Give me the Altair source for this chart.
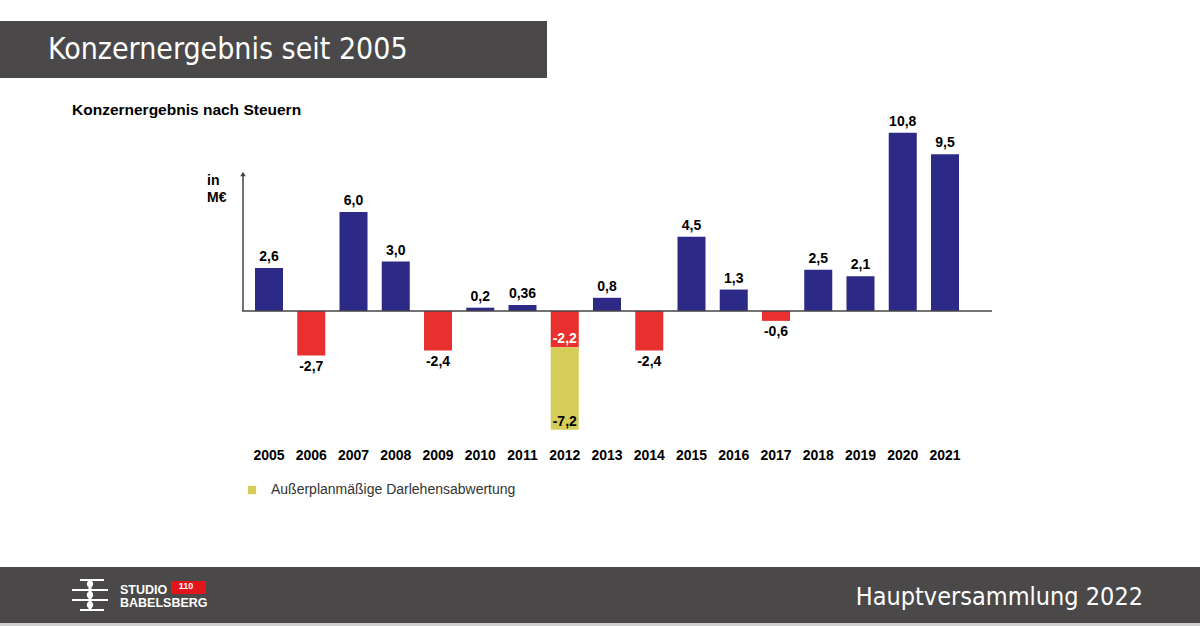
import altair as alt
import pandas as pd

# Group result after tax, in million euro
years = [str(y) for y in range(2005, 2022)]
results = [2.6, -2.7, 6.0, 3.0, -2.4, 0.2, 0.36, -2.2, 0.8, -2.4, 4.5, 1.3, -0.6, 2.5, 2.1, 10.8, 9.5]

# Extraordinary loan write-down on top of the 2012 operating loss
writedown_year = "2012"
writedown = -5.0

kind_pos = "Gewinn"
kind_neg = "Verlust"
kind_wd = "Außerplanmäßige Darlehensabwertung"

BLUE = "#2c2a86"
RED = "#e8312f"
YELLOW = "#d5cd58"
DARK = "#4a4848"
FONT = "Liberation Sans"
NARROW = "Liberation Sans Narrow, DejaVu Sans Condensed, Liberation Sans"
LBL = 14


def de(v):
    s = f"{v:.2f}" if round(v, 1) != v else f"{v:.1f}"
    return s.replace(".", ",")


rows = []
for y, v in zip(years, results):
    rows.append({"year": y, "start": 0.0, "end": v,
                 "kind": kind_pos if v >= 0 else kind_neg})
    if y == writedown_year:
        rows.append({"year": y, "start": v, "end": v + writedown, "kind": kind_wd})
bars_df = pd.DataFrame(rows)

labels = []
for y, v in zip(years, results):
    if y == writedown_year:
        labels.append({"year": y, "val": v, "txt": de(v), "pos": "in_neg", "col": "white"})
        total = round(v + writedown, 2)
        labels.append({"year": y, "val": total, "txt": de(total), "pos": "in_neg", "col": "black"})
    elif v >= 0:
        labels.append({"year": y, "val": v, "txt": de(v), "pos": "above", "col": "black"})
    else:
        labels.append({"year": y, "val": v, "txt": de(v), "pos": "below", "col": "black"})
labels_df = pd.DataFrame(labels)

xs = alt.Scale(domain=years, range=[255, 959], paddingInner=0.337, paddingOuter=0)
ys = alt.Scale(domain=[-8, 12], range=[443, 113], nice=False, zero=False)
X = alt.X("year:N", scale=xs, axis=None)

bars = alt.Chart(bars_df).mark_bar().encode(
    x=X,
    y=alt.Y("start:Q", scale=ys, axis=None),
    y2="end:Q",
    color=alt.Color(
        "kind:N",
        scale=alt.Scale(domain=[kind_pos, kind_neg, kind_wd], range=[BLUE, RED, YELLOW]),
        legend=alt.Legend(
            values=[kind_wd], orient="none", legendX=245, legendY=483, title=None,
            symbolType="square", symbolSize=70, symbolStrokeWidth=0, labelLimit=0,
            labelFont=FONT, labelFontSize=14, labelColor="#333333", labelOffset=12,
        ),
    ),
)

above = alt.Chart(labels_df).transform_filter("datum.pos == 'above'").mark_text(
    font=FONT, fontWeight="bold", fontSize=LBL, baseline="bottom", dy=-4, color="black"
).encode(x=X, y=alt.Y("val:Q", scale=ys, axis=None), text="txt:N")

below = alt.Chart(labels_df).transform_filter("datum.pos == 'below'").mark_text(
    font=FONT, fontWeight="bold", fontSize=LBL, baseline="top", dy=4, color="black"
).encode(x=X, y=alt.Y("val:Q", scale=ys, axis=None), text="txt:N")

inside = alt.Chart(labels_df).transform_filter("datum.pos == 'in_neg'").mark_text(
    font=FONT, fontWeight="bold", fontSize=LBL, baseline="bottom", dy=-1
).encode(
    x=X, y=alt.Y("val:Q", scale=ys, axis=None), text="txt:N",
    color=alt.Color("col:N", scale=None),
)

year_labels = alt.Chart(pd.DataFrame({"year": years})).mark_text(
    font=FONT, fontWeight="bold", fontSize=LBL, color="black", baseline="middle"
).encode(x=X, y=alt.value(456), text="year:N")

zero_line = alt.Chart(pd.DataFrame({"v": [0]})).mark_rule(color="#444444", strokeWidth=1.5).encode(
    y=alt.Y("v:Q", scale=ys, axis=None), x=alt.value(242), x2=alt.value(992)
)

y_axis = alt.Chart(pd.DataFrame({"v": [0]})).mark_rule(color="#444444", strokeWidth=1.5).encode(
    x=alt.value(243), y=alt.Y("v:Q", scale=ys, axis=None), y2=alt.value(174)
)
arrow = alt.Chart(pd.DataFrame({"v": [0]})).mark_point(
    shape="triangle-up", filled=True, color="#444444", size=30, opacity=1
).encode(x=alt.value(243), y=alt.value(174))

unit = alt.Chart(pd.DataFrame({"t": ["in", "M€"], "yy": [181, 198]})).mark_text(
    font=FONT, fontWeight="bold", fontSize=LBL, align="left", baseline="middle", color="black"
).encode(x=alt.value(207), y=alt.Y("yy:Q", scale=None), text="t:N")

subtitle = alt.Chart(pd.DataFrame({"t": ["Konzernergebnis nach Steuern"]})).mark_text(
    font=FONT, fontWeight="bold", fontSize=15.5, align="left", baseline="middle", color="black"
).encode(x=alt.value(72), y=alt.value(110), text="t:N")

# header and footer bands
header = alt.Chart(pd.DataFrame({"v": [0]})).mark_rect(color=DARK).encode(
    x=alt.value(0), x2=alt.value(547), y=alt.value(21), y2=alt.value(78)
)
header_text = alt.Chart(pd.DataFrame({"t": ["Konzernergebnis seit 2005"]})).mark_text(
    font=NARROW, fontSize=30, align="left", baseline="middle", color="white"
).encode(x=alt.value(48), y=alt.value(50), text="t:N")

footer = alt.Chart(pd.DataFrame({"v": [0]})).mark_rect(color=DARK).encode(
    x=alt.value(0), x2=alt.value(1200), y=alt.value(567), y2=alt.value(623)
)
footer_edge = alt.Chart(pd.DataFrame({"v": [0]})).mark_rect(color="#cfcfcf").encode(
    x=alt.value(0), x2=alt.value(1200), y=alt.value(623), y2=alt.value(626)
)
footer_text = alt.Chart(pd.DataFrame({"t": ["Hauptversammlung 2022"]})).mark_text(
    font=NARROW, fontSize=25, align="right", baseline="middle", color="white"
).encode(x=alt.value(1143), y=alt.value(597), text="t:N")

# studio logo: stylised figure, wordmark and anniversary badge
logo_lines = alt.Chart(pd.DataFrame({
    "x1": [80, 72, 72, 80], "x2": [104, 108, 108, 104], "yy": [580, 590, 600, 610]
})).mark_rule(color="white", strokeWidth=2).encode(
    x=alt.X("x1:Q", scale=None), x2="x2:Q", y=alt.Y("yy:Q", scale=None)
)
logo_body = alt.Chart(pd.DataFrame({"yy": [584, 595, 605]})).mark_point(
    shape="circle", filled=True, color="white", size=40, opacity=1
).encode(x=alt.value(90), y=alt.Y("yy:Q", scale=None))
logo_spine = alt.Chart(pd.DataFrame({"v": [0]})).mark_rule(color="white", strokeWidth=3).encode(
    x=alt.value(90), y=alt.value(579), y2=alt.value(611)
)
badge = alt.Chart(pd.DataFrame({"v": [0]})).mark_rect(color="#e2141c").encode(
    x=alt.value(171), x2=alt.value(206), y=alt.value(581), y2=alt.value(594)
)
badge_text = alt.Chart(pd.DataFrame({"t": ["110"]})).mark_text(
    font=FONT, fontWeight="bold", fontSize=9, color="white", baseline="middle"
).encode(x=alt.value(186), y=alt.value(586), text="t:N")
wordmark = alt.Chart(pd.DataFrame({"t": ["STUDIO", "BABELSBERG"], "yy": [590, 603]})).mark_text(
    font=FONT, fontWeight="bold", fontSize=12.5, align="left", baseline="middle", color="white"
).encode(x=alt.value(120), y=alt.Y("yy:Q", scale=None), text="t:N")

chart = alt.layer(
    header, header_text, subtitle, unit,
    bars, zero_line, y_axis, arrow,
    above, below, inside, year_labels,
    footer, footer_edge, footer_text, logo_lines, logo_spine, logo_body, badge, badge_text, wordmark,
).properties(
    width=1200, height=626, padding=0, autosize=alt.AutoSizeParams(type="none"),
    background="white",
).configure_view(stroke=None)

chart.save("out.html", embed_options={"renderer": "svg", "actions": False})
